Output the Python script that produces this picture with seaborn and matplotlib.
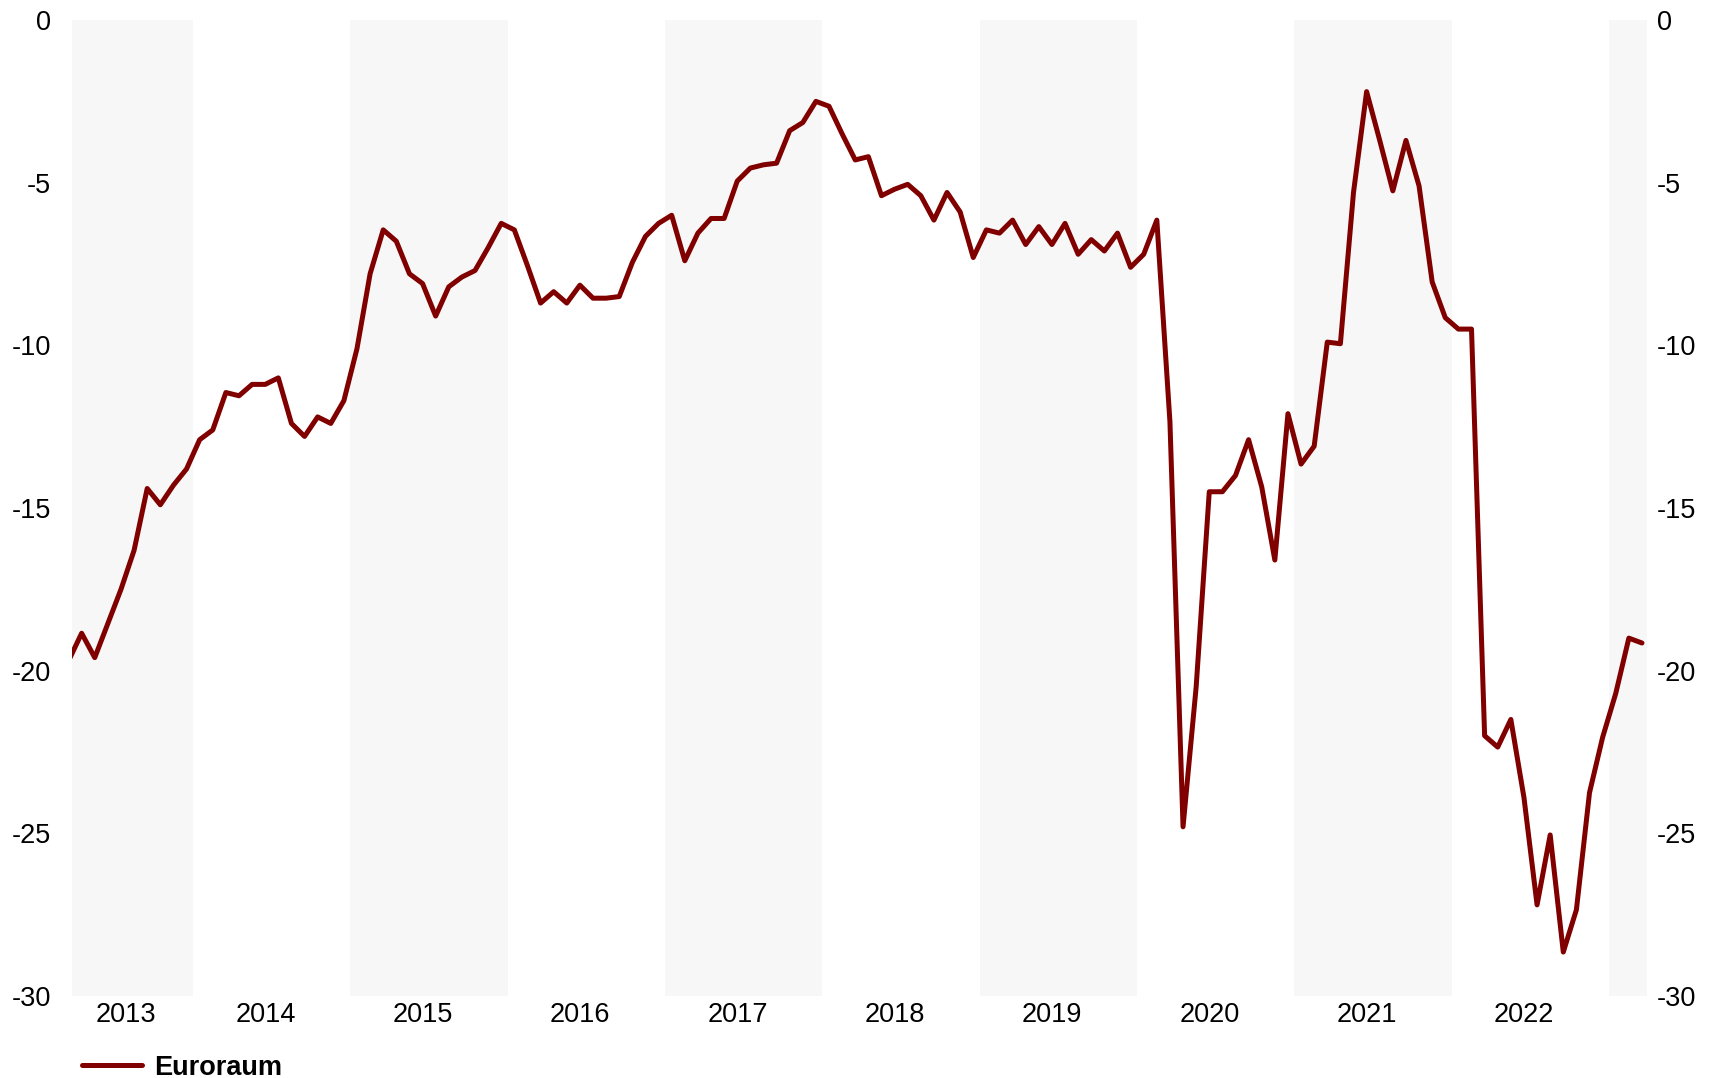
import numpy as np
import matplotlib.pyplot as plt
import pandas as pd
import seaborn as sns

# monthly values, Mar 2013 .. Mar 2023
start_month = '2013-03'
euroraum = [
    -19.7, -18.85, -19.6, -18.55, -17.5, -16.3, -14.4, -14.9, -14.3, -13.8,            # 2013
    -12.9, -12.6, -11.45, -11.55, -11.2, -11.2, -11.0, -12.4, -12.8, -12.2, -12.4, -11.7,  # 2014
    -10.1, -7.8, -6.45, -6.8, -7.8, -8.1, -9.1, -8.2, -7.9, -7.7, -7.0, -6.25,       # 2015
    -6.45, -7.55, -8.7, -8.35, -8.7, -8.15, -8.55, -8.55, -8.5, -7.45, -6.65, -6.25,  # 2016
    -6.0, -7.4, -6.55, -6.1, -6.1, -4.95, -4.55, -4.45, -4.4, -3.4, -3.15, -2.5,     # 2017
    -2.65, -3.5, -4.3, -4.2, -5.4, -5.2, -5.05, -5.4, -6.15, -5.3, -5.9, -7.3,       # 2018
    -6.45, -6.55, -6.15, -6.9, -6.35, -6.9, -6.25, -7.2, -6.75, -7.1, -6.55, -7.6,   # 2019
    -7.2, -6.15, -12.35, -24.8, -20.5, -14.5, -14.5, -14.0, -12.9, -14.35, -16.6, -12.1,  # 2020
    -13.65, -13.1, -9.9, -9.95, -5.3, -2.2, -3.7, -5.25, -3.7, -5.1, -8.05, -9.15,   # 2021
    -9.5, -9.5, -22.0, -22.35, -21.5, -23.9, -27.2, -25.05, -28.65, -27.35, -23.75, -22.05,  # 2022
    -20.7, -19.0, -19.15,                                                         # 2023
]
years = list(range(2013, 2023))
shaded_years = [2013, 2015, 2017, 2019, 2021, 2023]
yticks = [0, -5, -10, -15, -20, -25, -30]

months = pd.period_range(start_month, periods=len(euroraum), freq='M')
df = pd.DataFrame({'x': months.year + (months.month - 0.5) / 12, 'Euroraum': euroraum})

sns.set_style('white')
plt.rcParams['font.family'] = ['Liberation Sans', 'DejaVu Sans']
plt.rcParams['axes.unicode_minus'] = False
plt.rcParams['text.color'] = 'black'

fig = plt.figure(figsize=(17.17, 10.78), dpi=100)
ax = fig.add_axes([0.0419, 0.0761, 0.9173, 0.9053])
xmin, xmax = 2013.23, 2023.24

for y in shaded_years:
    ax.axvspan(y, y + 1, color='#f7f7f7', lw=0, zorder=0)

sns.lineplot(data=df, x='x', y='Euroraum', color='#800000', linewidth=3.6,
             ax=ax, label='Euroraum', legend=False)

ax.set_xlim(xmin, xmax)
ax.set_ylim(-30, 0)
ax.set_xlabel('')
ax.set_ylabel('')

# year labels centred on the visible part of each year
xt = [(max(y, xmin) + min(y + 1, xmax)) / 2 - 0.04 for y in years]
ax.set_xticks(xt)
ax.set_xticklabels([str(y) for y in years])
ax.set_yticks(yticks)
ax.set_yticklabels([str(v) for v in yticks])
ax.tick_params(axis='both', length=0, labelsize=19.5, colors='black')
ax.tick_params(axis='y', pad=15)
ax.tick_params(axis='x', pad=4)

ax2 = ax.twinx()
ax2.set_ylim(-30, 0)
ax2.set_yticks(yticks)
ax2.set_yticklabels([str(v) for v in yticks])
ax2.tick_params(axis='y', length=0, labelsize=19.5, pad=7, colors='black')

for a in (ax, ax2):
    for s in a.spines.values():
        s.set_visible(False)

handles, labels = ax.get_legend_handles_labels()
fig.legend(handles, labels, loc='center left', bbox_to_anchor=(0.048, 0.0095),
           frameon=False, prop={'weight': 'bold', 'size': 19.5}, labelcolor='black',
           handlelength=2.2, handletextpad=0.45, borderpad=0, borderaxespad=0)

fig.savefig('out.png', dpi=100)
